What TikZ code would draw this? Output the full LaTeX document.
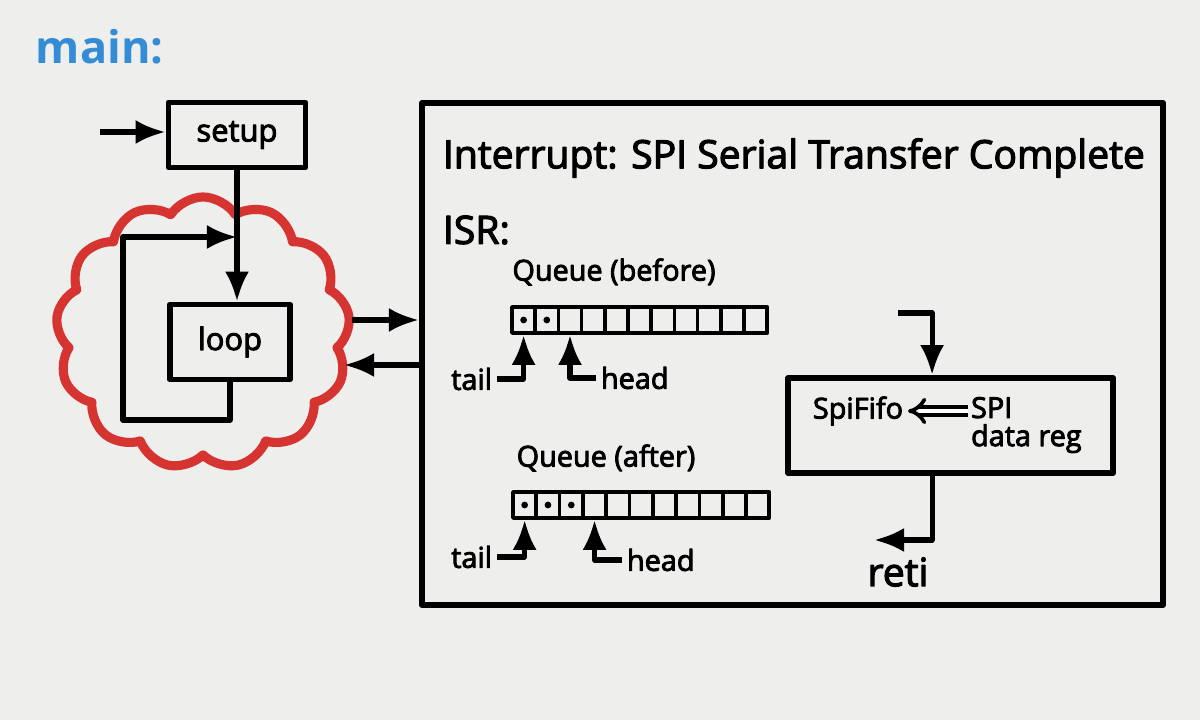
\documentclass[tikz,border=0pt]{standalone}
\usepackage{fontspec}
\setmainfont{Open Sans}[UprightFeatures={FakeBold=3}]
\usetikzlibrary{arrows.meta,shapes.symbols}

\definecolor{paper}{RGB}{238,238,236}
\definecolor{titleblue}{RGB}{52,140,214}
\definecolor{cloudred}{RGB}{214,52,48}

\begin{document}
\begin{tikzpicture}[
  x=0.025cm, y=-0.025cm,
  line join=round,
  box/.style={draw, line width=4pt, align=center, inner sep=4pt},
  cell/.style={draw, line width=2.6pt, minimum width=0.58cm, minimum height=0.65cm, inner sep=0pt},
  lbl/.style={font=\fontsize{20.5}{23}\selectfont},
  boxtxt/.style={font=\fontsize{22}{25}\selectfont},
  big/.style={font=\fontsize{27.8}{32}\selectfont},
  arr/.style={-{Latex[length=7.5mm, width=6mm]}, line width=3.6pt},
]
  % ----- Paper -----
  \fill[paper] (0,0) rectangle (1200,720);
  \useasboundingbox (0,0) rectangle (1200,720);

  \node[anchor=west, text=titleblue, font=\fontsize{32}{38}\selectfont\bfseries] (main) at (31,47) {main:};

  % ----- Main program -----
  \node[cloud, cloud puffs=13, cloud puff arc=115, aspect=1.07, draw=cloudred,
        line width=6.5pt, minimum width=7.35cm, minimum height=6.8cm] (cloud) at (203,333) {};

  \node[box, boxtxt, minimum width=3.43cm, minimum height=1.63cm] (setup) at (237,135) {setup};
  \node[box, boxtxt, minimum width=3.00cm, minimum height=1.88cm] (loop)  at (230,342) {loop};

  \coordinate (start) at (100,132);
  \coordinate (join)  at (237,237);
  \coordinate (fbl)   at (123,420);

  \draw[arr] (start) -- (start -| setup.west);
  \draw[arr] (setup.south) -- (setup.south |- loop.north);
  \draw[arr] (loop.south) |- (fbl) |- (join);

  % ----- Interrupt -----
  \node[box, line width=4.2pt, minimum width=18.53cm, minimum height=12.55cm] (isr) at (792.5,354) {};
  \node[big, anchor=west] (isrtitle) at (438,158) {Interrupt: SPI Serial Transfer Complete};
  \node[big, anchor=west] (isrlbl) at (438,230) {ISR:};

  \coordinate (toisr) at (352,320);
  \coordinate (frisr) at (344,365);
  \draw[arr] (toisr) -- (toisr -| isr.west);
  \draw[arr] (frisr -| isr.west) -- (frisr);

  % Queue (before)
  \node[lbl] (qalbl) at (614,272) {Queue (before)};
  \foreach \i in {1,...,11}
    \node[cell] (qa\i) at ({512+(\i-0.5)*23.2},320) {};
  \foreach \i in {1,2}
    \fill (qa\i) circle (2.4pt);
  \node[lbl, anchor=east] (taila) at (497,379) {tail};
  \node[lbl, anchor=west] (heada) at (596,378) {head};
  \draw[arr] (taila.east) -| (qa1.south);
  \draw[arr] (heada.west) -| (qa3.south);

  % Queue (after)
  \node[lbl] (qblbl) at (606,458) {Queue (after)};
  \foreach \i in {1,...,11}
    \node[cell] (qb\i) at ({513+(\i-0.5)*23.3},505) {};
  \foreach \i in {1,2,3}
    \fill (qb\i) circle (2.4pt);
  \node[lbl, anchor=east] (tailb) at (497,557) {tail};
  \node[lbl, anchor=west] (headb) at (622,560) {head};
  \draw[arr] (tailb.east) -| (qb1.south);
  \draw[arr] (headb.west) -| (qb4.south);

  % SpiFifo block
  \node[box, minimum width=8.13cm, minimum height=2.38cm] (fifo) at (950.5,425.5) {};
  \node[lbl, anchor=east] (spififo) at (908,411) {SpiFifo};
  \node[lbl, anchor=north west, align=left, inner sep=2pt] (spireg) at (968,394) {SPI\\[-3pt]data reg};
  \draw[double, double distance=3.5pt, line width=2.6pt, -{Implies}] (spireg.west |- spififo.east) -- (spififo.east);

  \coordinate (fifoin) at (898,313);
  \coordinate (retiend) at (874,540);
  \node[big] (reti) at (898,572) {reti};
  \draw[arr] (fifoin) -| ([xshift=-0.46cm]fifo.north);
  \draw[arr] ([xshift=-0.46cm]fifo.south) |- (retiend);
\end{tikzpicture}
\end{document}
